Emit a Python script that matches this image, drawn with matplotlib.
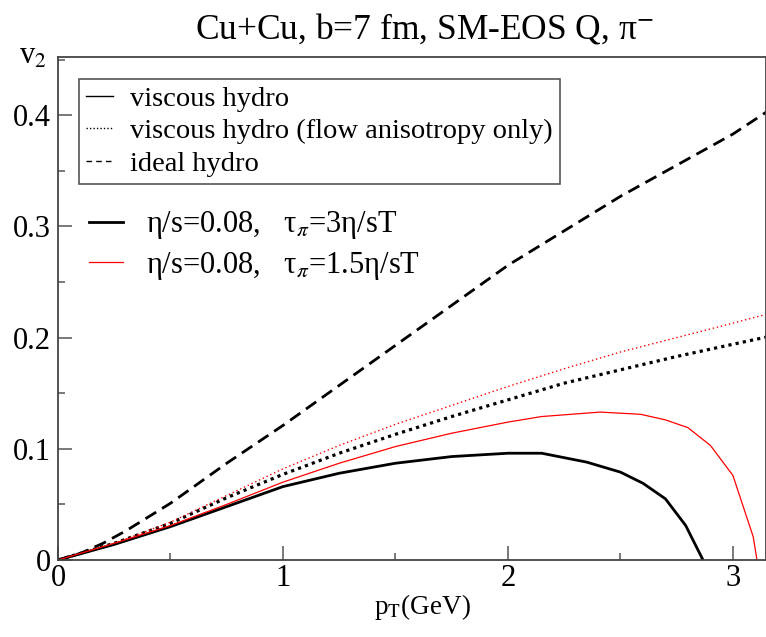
import matplotlib
matplotlib.use("Agg")
import matplotlib.pyplot as plt
from matplotlib.lines import Line2D
from matplotlib.ticker import MultipleLocator, FuncFormatter

plt.rcParams["font.family"] = ["Liberation Serif", "DejaVu Serif"]
plt.rcParams["mathtext.fontset"] = "stix"

# v2(pT) curves for pi-, Cu+Cu at b=7 fm, SM-EOS Q
pt_ideal = [0.0, 0.1, 0.2, 0.3, 0.5, 0.75, 1.0, 1.25, 1.5, 1.75, 2.0, 2.25, 2.5, 2.75, 3.0, 3.15]
v2_ideal = [0.0, 0.006, 0.015, 0.026, 0.051, 0.087, 0.121, 0.157, 0.193, 0.229, 0.265, 0.296, 0.327, 0.355, 0.383, 0.403]

pt_flow = [0.0, 0.25, 0.5, 0.75, 1.0, 1.25, 1.5, 1.75, 2.0, 2.25, 2.5, 2.75, 3.0, 3.15]
v2_flow_3 = [0.0, 0.015, 0.033, 0.056, 0.077, 0.096, 0.113, 0.129, 0.144, 0.159, 0.171, 0.183, 0.194, 0.2005]
v2_flow_15 = [0.0, 0.015, 0.034, 0.058, 0.082, 0.103, 0.122, 0.139, 0.156, 0.172, 0.187, 0.200, 0.213, 0.221]

pt_visc_3 = [0.0, 0.25, 0.5, 0.75, 1.0, 1.25, 1.5, 1.75, 2.0, 2.15, 2.35, 2.5, 2.6, 2.7, 2.79, 2.867]
v2_visc_3 = [0.0, 0.014, 0.030, 0.048, 0.066, 0.078, 0.087, 0.093, 0.096, 0.096, 0.088, 0.079, 0.069, 0.055, 0.031, 0.0]

pt_visc_15 = [0.0, 0.25, 0.5, 0.75, 1.0, 1.25, 1.5, 1.75, 2.0, 2.15, 2.41, 2.59, 2.7, 2.8, 2.9, 3.0, 3.09, 3.107]
v2_visc_15 = [0.0, 0.015, 0.031, 0.050, 0.070, 0.087, 0.102, 0.114, 0.124, 0.129, 0.133, 0.131, 0.126, 0.119, 0.103, 0.076, 0.021, 0.0]

fig = plt.figure(figsize=(7.66, 6.37), dpi=100)
ax = fig.add_axes([0.0757, 0.1209, 0.9243, 0.7896])

ax.plot(pt_ideal, v2_ideal, color="black", lw=2.0, linestyle=(0, (4.5, 2.5)))
ax.plot(pt_flow, v2_flow_3, color="black", lw=2.3, linestyle=(0, (1, 1.3)))
ax.plot(pt_flow, v2_flow_15, color="red", lw=1.0, linestyle=(0, (1, 2)))
l_black, = ax.plot(pt_visc_3, v2_visc_3, color="black", lw=2.0)
l_red, = ax.plot(pt_visc_15, v2_visc_15, color="red", lw=0.9)

ax.set_xlim(0, 3.147)
ax.set_ylim(0, 0.4523)
ax.xaxis.set_major_locator(MultipleLocator(1))
ax.xaxis.set_minor_locator(MultipleLocator(0.5))
ax.yaxis.set_major_locator(MultipleLocator(0.1))
ax.yaxis.set_minor_locator(MultipleLocator(0.05))
ax.xaxis.set_major_formatter(FuncFormatter(lambda v, p: f"{v:g}"))
ax.yaxis.set_major_formatter(FuncFormatter(lambda v, p: f"{v:g}"))
ax.tick_params(which="both", direction="in", color="#555555", width=1.1)
ax.tick_params(which="major", length=10)
ax.tick_params(which="minor", length=5)
ax.tick_params(axis="x", labelsize=22, pad=3)
ax.tick_params(axis="y", labelsize=22, pad=5)
for s in ax.spines.values():
    s.set_color("#444444")
    s.set_linewidth(1.3)

ax.set_title(r"Cu+Cu, b=7 fm, SM-EOS Q, π$^{-}$", fontsize=25.5, pad=13, x=0.518)
ax.set_xlabel(r"p$_{\rm T}$(GeV)", fontsize=19.5, labelpad=-1, x=0.514)
fig.text(0.025, 0.9, r"v$_2$", fontsize=22)

# line-style key
style_handles = [
    Line2D([], [], color="black", lw=1.0),
    Line2D([], [], color="black", lw=1.0, linestyle=(0, (1, 1.5))),
    Line2D([], [], color="black", lw=1.0, linestyle=(0, (4, 3))),
]
leg1 = ax.legend(style_handles,
                 ["viscous hydro", "viscous hydro (flow anisotropy only)", "ideal hydro"],
                 loc="upper left", bbox_to_anchor=(0.0297, 0.956), borderaxespad=0,
                 fontsize=20.5, fancybox=False, edgecolor="#555555", framealpha=1,
                 handlelength=0.95, handletextpad=0.6, labelspacing=0.22,
                 borderpad=0.25)
leg1.get_frame().set_linewidth(1.2)
ax.add_artist(leg1)

# relaxation-time key
ax.legend([l_black, l_red],
          [r"η/s=0.08,   τ$_\pi$=3η/sT", r"η/s=0.08,   τ$_\pi$=1.5η/sT"],
          loc="upper left", bbox_to_anchor=(0.0438, 0.697), borderaxespad=0,
          fontsize=22, frameon=False, handlelength=1.1, handletextpad=0.75,
          labelspacing=0.28, borderpad=0)

fig.savefig("out.png", dpi=100)
